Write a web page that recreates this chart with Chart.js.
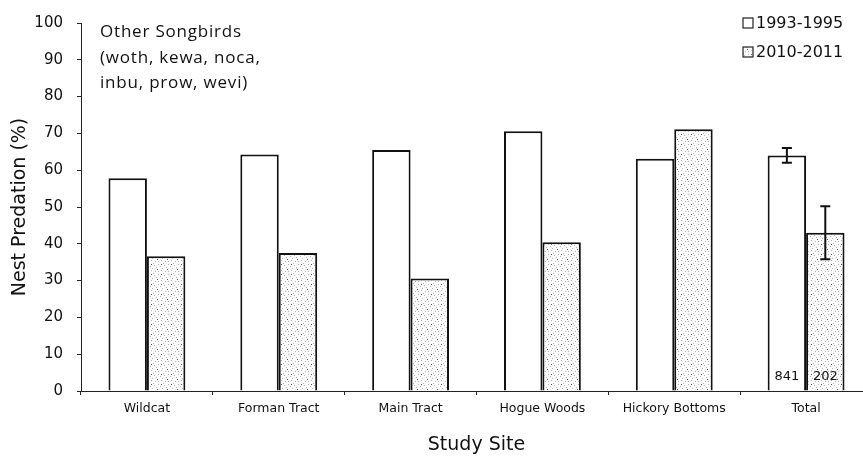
<!DOCTYPE html>
<html>
<head>
<meta charset="utf-8">
<script src="https://cdn.jsdelivr.net/npm/chart.js@4.4.1/dist/chart.umd.min.js"></script>
<style>
  html, body { margin: 0; padding: 0; background: #fff; overflow: hidden; }
  #wrap { width: 875px; height: 459px; }
</style>
</head>
<body>
<div id="wrap"><canvas id="predChart" width="875" height="459"></canvas></div>
<script>
// Dữ liệu
const sites = ['Wildcat', 'Forman Tract', 'Main Tract', 'Hogue Woods', 'Hickory Bottoms', 'Total'];
const early = [57.8, 64.3, 65.5, 70.6, 63.1, 64.0];
const recent = [36.6, 37.5, 30.6, 40.4, 71.1, 43.0];
const earlyErr = [null, null, null, null, null, 2.0];
const recentErr = [null, null, null, null, null, 7.2];
const sampleSizes = ['841', '202'];
const seriesNames = ['1993-1995', '2010-2011'];
const noteLines = ['Other Songbirds', '(woth, kewa, noca,', 'inbu, prow, wevi)'];

const FONT = '"DejaVu Sans", Verdana, sans-serif';

// Mẫu chấm xám cho cột 2010-2011
function makeStipple() {
    const c = document.createElement('canvas');
    c.width = 10; c.height = 10;
    const g = c.getContext('2d');
    g.fillStyle = '#fbfbfb';
    g.fillRect(0, 0, 10, 10);
    const grey = [[1, 0], [5, 1], [3, 3], [8, 4], [0, 6], [6, 7], [2, 8], [8, 1], [4, 5]];
    const dark = [[7, 9], [1, 4]];
    g.fillStyle = '#b4b4b4';
    grey.forEach(p => g.fillRect(p[0], p[1], 1, 1));
    g.fillStyle = '#555';
    dark.forEach(p => g.fillRect(p[0], p[1], 1, 1));
    return g.createPattern(c, 'repeat');
}

const ctx = document.getElementById('predChart').getContext('2d');
const stipple = makeStipple();

// Vẽ thanh sai số, chú thích, ghi chú và cỡ mẫu
const extrasPlugin = {
    id: 'extras',
    afterDatasetsDraw(chart) {
        const c = chart.ctx;
        const y = chart.scales.y;
        const errs = [earlyErr, recentErr];
        c.save();
        c.strokeStyle = '#111';
        c.lineWidth = 2;
        [0, 1].forEach(d => {
            const meta = chart.getDatasetMeta(d);
            const vals = chart.data.datasets[d].data;
            errs[d].forEach((e, i) => {
                if (e == null) return;
                const x = meta.data[i].x;
                const top = y.getPixelForValue(vals[i] + e);
                const bot = y.getPixelForValue(vals[i] - e);
                c.beginPath();
                c.moveTo(x, top); c.lineTo(x, bot);
                c.moveTo(x - 5, top); c.lineTo(x + 5, top);
                c.moveTo(x - 5, bot); c.lineTo(x + 5, bot);
                c.stroke();
            });
        });

        // cỡ mẫu ở chân cột Total
        c.fillStyle = '#111';
        c.font = '13px ' + FONT;
        c.textAlign = 'center';
        c.textBaseline = 'middle';
        const last = sites.length - 1;
        [0, 1].forEach(d => {
            const bar = chart.getDatasetMeta(d).data[last];
            c.fillText(sampleSizes[d], bar.x, y.getPixelForValue(0) - 14);
        });

        // ghi chú góc trên trái
        c.textAlign = 'left';
        c.font = '17px "Open Sans", sans-serif';
        c.letterSpacing = '0.8px';
        noteLines.forEach((t, i) => c.fillText(t, 100, 32 + i * 25.8));
        c.letterSpacing = '0px';

        // chú thích góc trên phải
        c.font = '16px ' + FONT;
        const fills = ['#fff', stipple];
        seriesNames.forEach((t, i) => {
            const ly = 23 + i * 29;
            c.fillStyle = fills[i];
            c.fillRect(743, ly - 5, 10, 10);
            c.strokeStyle = '#222';
            c.lineWidth = 1.2;
            c.strokeRect(743, ly - 5, 10, 10);
            c.fillStyle = '#111';
            c.fillText(t, 756, ly + 1);
        });
        c.restore();
    }
};

new Chart(ctx, {
    type: 'bar',
    data: {
        labels: sites,
        datasets: [{
            label: seriesNames[0],
            data: early,
            backgroundColor: '#ffffff',
            borderColor: '#111',
            borderWidth: 2,
            categoryPercentage: 0.583,
            barPercentage: 1
        }, {
            label: seriesNames[1],
            data: recent,
            backgroundColor: stipple,
            borderColor: '#111',
            borderWidth: 2,
            categoryPercentage: 0.583,
            barPercentage: 1
        }]
    },
    options: {
        responsive: false,
        animation: false,
        layout: { padding: { top: 17, right: 3, left: 0, bottom: 0 } },
        plugins: {
            legend: { display: false },
            tooltip: { enabled: false }
        },
        scales: {
            x: {
                grid: { drawOnChartArea: false, tickLength: 4, color: '#222' },
                border: { color: '#222', width: 1 },
                ticks: {
                    color: '#111',
                    font: { family: FONT, size: 12.5 },
                    padding: 6,
                    maxRotation: 0
                },
                title: {
                    display: true,
                    text: 'Study Site',
                    color: '#111',
                    font: { family: FONT, size: 19 },
                    padding: { top: 8, bottom: 3 }
                },
                afterFit: s => { s.height = 68; }
            },
            y: {
                min: 0,
                max: 100,
                grid: { drawOnChartArea: false, tickLength: 4, color: '#222' },
                border: { color: '#222', width: 1 },
                ticks: {
                    stepSize: 10,
                    color: '#111',
                    font: { family: FONT, size: 15 },
                    padding: 14
                },
                title: {
                    display: true,
                    text: 'Nest Predation (%)',
                    color: '#111',
                    font: { family: FONT, size: 19 },
                    padding: { top: 9, bottom: 4 }
                },
                afterFit: s => { s.width = 81; }
            }
        }
    },
    plugins: [extrasPlugin]
});
</script>
</body>
</html>
